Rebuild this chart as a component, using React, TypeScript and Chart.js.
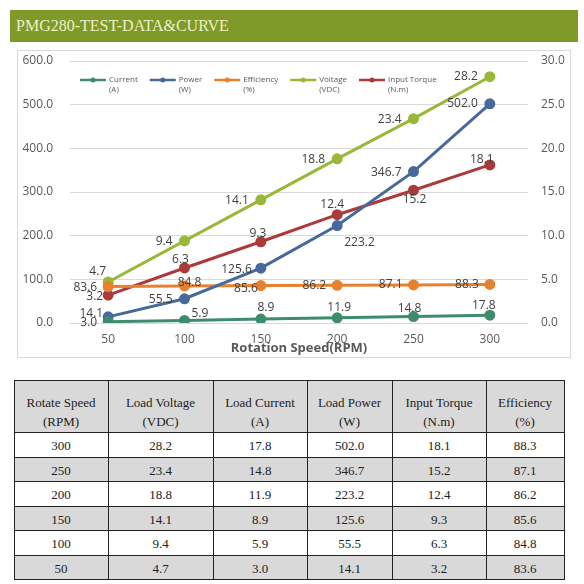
import React, { useEffect, useRef } from 'react';
import { Chart, registerables } from 'chart.js';

Chart.register(...registerables);

// ---- data ----
const SPEEDS = [50, 100, 150, 200, 250, 300];
const CURRENT = [3.0, 5.9, 8.9, 11.9, 14.8, 17.8];
const POWER = [14.1, 55.5, 125.6, 223.2, 346.7, 502.0];
const EFFICIENCY = [83.6, 84.8, 85.6, 86.2, 87.1, 88.3];
const VOLTAGE = [4.7, 9.4, 14.1, 18.8, 23.4, 28.2];
const TORQUE = [3.2, 6.3, 9.3, 12.4, 15.2, 18.1];

const LEFT_MIN = 0;
const LEFT_MAX = 600;
const LEFT_STEP = 100;
const RIGHT_MIN = 0;
const RIGHT_MAX = 30;
const RIGHT_STEP = 5;

const TITLE = 'PMG280-TEST-DATA&CURVE';
const X_TITLE = 'Rotation Speed(RPM)';

const TABLE_HEAD = [
  ['Rotate Speed', '(RPM)'],
  ['Load Voltage', '(VDC)'],
  ['Load Current', '(A)'],
  ['Load Power', '(W)'],
  ['Input Torque', '(N.m)'],
  ['Efficiency', '(%)'],
];

// ---- styling / label placement (not data) ----
type Place = [CanvasTextAlign, number, number];
const SERIES = [
  {
    lines: ['Current', '(A)'], data: CURRENT, color: '#3d8c6c', axis: 'y',
    place: [['right', -11, 1], ['left', 7, -7], ['center', 5, -12], ['center', 2, -10], ['center', -4, -8], ['center', -6, -10]] as Place[],
  },
  {
    lines: ['Power', '(W)'], data: POWER, color: '#47699b', axis: 'y',
    place: [['right', -5, -3], ['right', -12, 1], ['right', -9, 1], ['left', 7, 17], ['right', -12, 1], ['right', -12, 0]] as Place[],
  },
  {
    lines: ['Efficiency', '(%)'], data: EFFICIENCY, color: '#e5812f', axis: 'y',
    place: [['right', -11, 1], ['center', 5, -3], ['right', -3, 3], ['right', -11, 0], ['right', -11, 0], ['right', -11, 0]] as Place[],
  },
  {
    lines: ['Voltage', '(VDC)'], data: VOLTAGE, color: '#99b83a', axis: 'y1',
    place: [['right', -2, -10], ['right', -12, 1], ['right', -12, 1], ['right', -12, 1], ['right', -12, 1], ['right', -12, 0]] as Place[],
  },
  {
    lines: ['Input Torque', '(N.m)'], data: TORQUE, color: '#ab3a3b', axis: 'y1',
    place: [['right', -5, 2], ['center', -4, -8], ['center', -3, -8], ['center', -5, -10], ['center', 1, 9], ['center', -8, -5]] as Place[],
  },
];

const FONT = '"Open Sans", "Noto Sans", sans-serif';
const AXIS_COLOR = '#595959';

const labelPlugin = {
  id: 'valueLabels',
  afterDatasetsDraw(chart: any) {
    const ctx = chart.ctx;
    ctx.save();
    ctx.font = `12px ${FONT}`;
    ctx.fillStyle = '#404040';
    ctx.textBaseline = 'middle';
    chart.data.datasets.forEach((ds: any, i: number) => {
      const meta = chart.getDatasetMeta(i);
      meta.data.forEach((pt: any, j: number) => {
        const p = SERIES[i].place[j];
        ctx.textAlign = p[0];
        ctx.fillText(Number(ds.data[j]).toFixed(1), pt.x + p[1], pt.y + p[2]);
      });
    });
    ctx.restore();
  },
};

const legendPlugin = {
  id: 'customLegend',
  afterDraw(chart: any) {
    const ctx = chart.ctx;
    ctx.save();
    ctx.font = `8px ${FONT}`;
    ctx.textBaseline = 'middle';
    ctx.textAlign = 'left';
    let x = chart.chartArea.left + 10;
    const y = chart.chartArea.top + 19;
    chart.data.datasets.forEach((ds: any, i: number) => {
      const s = SERIES[i];
      ctx.strokeStyle = s.color;
      ctx.lineWidth = 2.5;
      ctx.beginPath();
      ctx.moveTo(x, y);
      ctx.lineTo(x + 26, y);
      ctx.stroke();
      ctx.fillStyle = s.color;
      ctx.beginPath();
      ctx.arc(x + 13, y, 2.5, 0, Math.PI * 2);
      ctx.fill();
      ctx.fillStyle = AXIS_COLOR;
      let w = 0;
      s.lines.forEach((t, k) => {
        ctx.fillText(t, x + 29, y + k * 10);
        w = Math.max(w, ctx.measureText(t).width);
      });
      x += 29 + w + 12;
    });
    ctx.restore();
  },
};

function ChartBox() {
  const ref = useRef<HTMLCanvasElement>(null);
  useEffect(() => {
    if (!ref.current) return;
    const chart = new Chart(ref.current, {
      type: 'line',
      data: {
        labels: SPEEDS.map(String),
        datasets: SERIES.map((s) => ({
          label: s.lines.join(' '),
          data: s.data,
          borderColor: s.color,
          backgroundColor: s.color,
          pointBackgroundColor: s.color,
          pointBorderColor: s.color,
          pointRadius: 4,
          borderWidth: 3,
          yAxisID: s.axis,
          tension: 0,
        })),
      },
      options: {
        responsive: false,
        animation: false,
        layout: { padding: { top: 10, left: 0, right: 0, bottom: 0 } },
        plugins: { legend: { display: false }, tooltip: { enabled: false } },
        scales: {
          x: {
            offset: true,
            grid: { display: false, drawTicks: false },
            border: { display: false },
            ticks: { color: AXIS_COLOR, font: { family: FONT, size: 12 }, padding: 9 },
            title: {
              display: true, text: X_TITLE, color: AXIS_COLOR,
              font: { family: FONT, size: 13, weight: 'bold' }, padding: { top: 0, bottom: 1 },
            },
            afterFit: (s: any) => { s.height = 34; },
          },
          y: {
            position: 'left', min: LEFT_MIN, max: LEFT_MAX,
            grid: { color: '#d9d9d9', drawTicks: false },
            border: { display: false },
            ticks: {
              stepSize: LEFT_STEP, padding: 17, color: AXIS_COLOR,
              font: { family: FONT, size: 12 },
              callback: (v: any) => Number(v).toFixed(1),
            },
            afterFit: (s: any) => { s.width = 52; s.paddingTop = 6; s.paddingBottom = 6; },
          },
          y1: {
            position: 'right', min: RIGHT_MIN, max: RIGHT_MAX,
            grid: { drawOnChartArea: false, drawTicks: false },
            border: { display: false },
            ticks: {
              stepSize: RIGHT_STEP, padding: 13, color: AXIS_COLOR,
              font: { family: FONT, size: 12 },
              callback: (v: any) => Number(v).toFixed(1),
            },
            afterFit: (s: any) => { s.width = 42; s.paddingTop = 6; s.paddingBottom = 6; },
          },
        },
      } as any,
      plugins: [labelPlugin, legendPlugin],
    });
    return () => chart.destroy();
  }, []);
  return <canvas ref={ref} width={552} height={306} style={{ display: 'block' }} />;
}

const COL_X = [14, 108, 213, 307, 392, 486, 564];
const ROW_Y = [380, 432, 457, 481, 506, 530, 555, 579];

function DataTable() {
  const rows = SPEEDS.map((s, i) => [
    String(s),
    VOLTAGE[i].toFixed(1),
    CURRENT[i].toFixed(1),
    POWER[i].toFixed(1),
    TORQUE[i].toFixed(1),
    EFFICIENCY[i].toFixed(1),
  ]).reverse();
  const cells: React.ReactNode[] = [];
  const textStyle: React.CSSProperties = {
    position: 'absolute', display: 'flex', alignItems: 'center', justifyContent: 'center',
    fontFamily: '"Liberation Serif", serif', fontSize: 13, color: '#222', textAlign: 'center',
  };
  for (let r = 0; r < ROW_Y.length - 1; r++) {
    const gray = r % 2 === 0;
    cells.push(
      <div key={'bg' + r} style={{
        position: 'absolute', left: COL_X[0], top: ROW_Y[r], width: COL_X[6] - COL_X[0],
        height: ROW_Y[r + 1] - ROW_Y[r], background: gray ? '#d9d9d9' : '#ffffff',
      }} />
    );
  }
  TABLE_HEAD.forEach((h, c) => {
    cells.push(
      <div key={'h' + c} style={{
        ...textStyle, left: COL_X[c], top: ROW_Y[0] + 11, width: COL_X[c + 1] - COL_X[c],
        height: ROW_Y[1] - ROW_Y[0] - 11, flexDirection: 'column', lineHeight: '19px',
      }}>
        <div>{h[0]}</div>
        <div>{h[1]}</div>
      </div>
    );
  });
  rows.forEach((row, r) => {
    row.forEach((v, c) => {
      cells.push(
        <div key={'c' + r + '_' + c} style={{
          ...textStyle, left: COL_X[c], top: ROW_Y[r + 1] + 2, width: COL_X[c + 1] - COL_X[c],
          height: ROW_Y[r + 2] - ROW_Y[r + 1] - 1,
        }}>{v}</div>
      );
    });
  });
  COL_X.forEach((x, i) => {
    cells.push(<div key={'vl' + i} style={{ position: 'absolute', left: x, top: ROW_Y[0], width: 1, height: ROW_Y[7] - ROW_Y[0] + 1, background: '#222' }} />);
  });
  ROW_Y.forEach((y, i) => {
    cells.push(<div key={'hl' + i} style={{ position: 'absolute', left: COL_X[0], top: y, width: COL_X[6] - COL_X[0] + 1, height: 1, background: '#222' }} />);
  });
  return <>{cells}</>;
}

export default function App() {
  return (
    <div style={{ position: 'absolute', left: 0, top: 0, width: 584, height: 584, background: '#ffffff', overflow: 'hidden' }}>
      <div style={{
        position: 'absolute', left: 10, top: 10, width: 568, height: 32, background: '#7f9a29',
        color: '#eef0c6', fontFamily: '"Liberation Serif", serif', fontSize: 16, lineHeight: '32px',
        paddingLeft: 6, boxSizing: 'border-box', whiteSpace: 'nowrap',
      }}>{TITLE}</div>
      <div style={{
        position: 'absolute', left: 17, top: 50, width: 554, height: 308,
        border: '1px solid #d9d9d9', boxSizing: 'border-box', background: '#fff',
      }}>
        <ChartBox />
      </div>
      <DataTable />
    </div>
  );
}
